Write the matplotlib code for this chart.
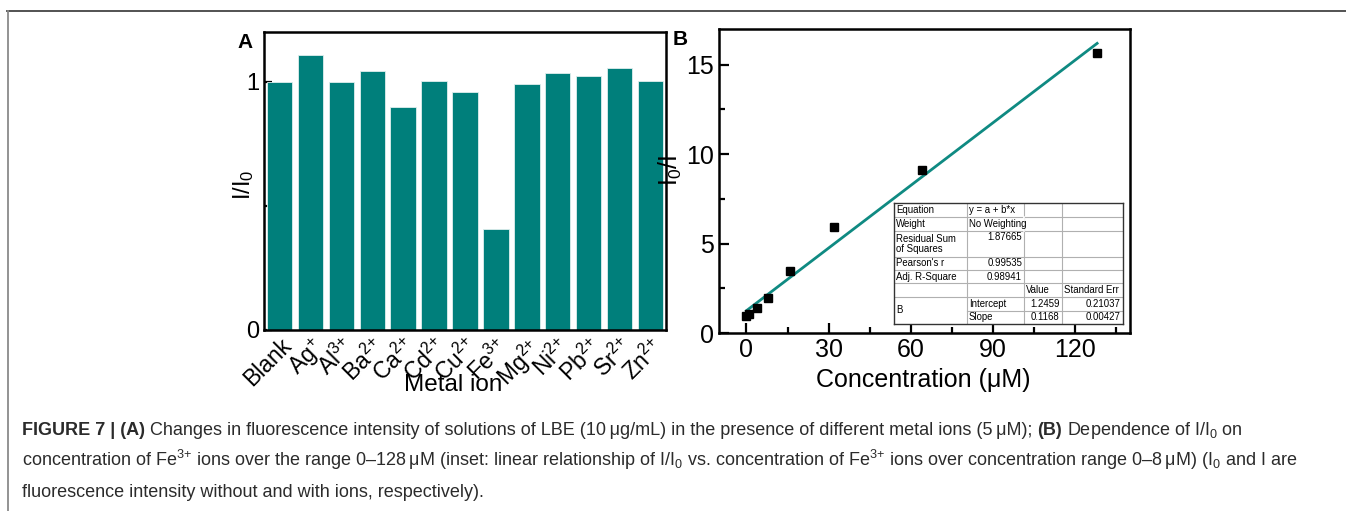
import numpy as np
import matplotlib
matplotlib.use("Agg")
import matplotlib.pyplot as plt
from matplotlib.lines import Line2D
from matplotlib.ticker import MultipleLocator

plt.rcParams['font.family'] = ['Liberation Sans', 'DejaVu Sans']
plt.rcParams['mathtext.fontset'] = 'custom'
plt.rcParams['mathtext.rm'] = 'Liberation Sans'
plt.rcParams['mathtext.it'] = 'Liberation Sans'
plt.rcParams['mathtext.bf'] = 'Liberation Sans:bold'
plt.rcParams['mathtext.default'] = 'regular'

# ---- data ----
metals = ['Blank', 'Ag$^{+}$', 'Al$^{3{+}}$', 'Ba$^{2{+}}$', 'Ca$^{2{+}}$', 'Cd$^{2{+}}$', 'Cu$^{2{+}}$',
          'Fe$^{3{+}}$', 'Mg$^{2{+}}$', 'Ni$^{2{+}}$', 'Pb$^{2{+}}$', 'Sr$^{2{+}}$', 'Zn$^{2{+}}$']
ratio = [1.000, 1.107, 0.997, 1.043, 0.900, 1.001, 0.960, 0.408, 0.992, 1.036, 1.023, 1.056, 1.004]

conc = [0, 1, 4, 8, 16, 32, 64, 128]          # uM
i0_over_i = [0.97, 1.06, 1.38, 1.96, 3.49, 5.91, 9.12, 15.67]

fit_a = 1.2459    # intercept
fit_b = 0.1168    # slope

tab_rows = [
    ['Equation', 'y = a + b*x', '', ''],
    ['Weight', 'No Weighting', '', ''],
    ['Residual Sum\nof Squares', '1.87665', '', ''],
    ["Pearson's r", '0.99535', '', ''],
    ['Adj. R-Square', '0.98941', '', ''],
    ['', '', 'Value', 'Standard Err'],
    ['B', 'Intercept', '1.2459', '0.21037'],
    ['', 'Slope', '0.1168', '0.00427'],
]

TEAL = '#007f7b'
LINE_TEAL = '#0f8a82'
W, H = 1346, 511

fig = plt.figure(figsize=(W / 100, H / 100), dpi=100)

def fx(px):
    return px / W

def fy(py):
    return 1 - py / H

# outer frame of the page
fig.add_artist(Line2D([fx(7), 1.0], [fy(11), fy(11)], transform=fig.transFigure, color='#444444', lw=1.3))
fig.add_artist(Line2D([fx(7.5), fx(7.5)], [fy(11), 0.0], transform=fig.transFigure, color='#8a8a8a', lw=1.3))

# ---------------- panel A ----------------
axA = fig.add_axes([fx(264), fy(330), fx(666) - fx(264), fy(32) - fy(330)])
xA = np.arange(len(metals))
axA.bar(xA, ratio, width=0.82, color=TEAL, edgecolor='#dfeeee', linewidth=0.6, zorder=2)
axA.set_xlim(-0.5, len(metals) - 0.5)
axA.set_ylim(0, 1.2)
axA.set_yticks([0, 1])
axA.yaxis.set_minor_locator(MultipleLocator(0.5))
axA.set_xticks(xA)
axA.set_xticklabels(metals, rotation=45, ha='right', rotation_mode='anchor', fontsize=16.5)
axA.tick_params(axis='y', labelsize=17)
axA.tick_params(which='both', direction='in', width=1.6, top=False, right=False, zorder=3)
axA.tick_params(which='major', length=6)
axA.tick_params(which='minor', length=4)
axA.tick_params(axis='x', pad=3)
for s in axA.spines.values():
    s.set_linewidth(1.8)
    s.set_zorder(4)
axA.text(-0.052, 0.487, 'I/I$_0$', transform=axA.transAxes, rotation=90,
         ha='center', va='center', fontsize=17)
axA.text(0.47, -0.185, 'Metal ion', transform=axA.transAxes, ha='center', va='center', fontsize=17.5)
fig.text(fx(245), fy(42), 'A', fontsize=15, fontweight='bold', ha='center', va='center')

# ---------------- panel B ----------------
axB = fig.add_axes([fx(719), fy(333), fx(1130) - fx(719), fy(29) - fy(333)])
xs = np.array([0, max(conc)])
axB.plot(xs, fit_a + fit_b * xs, color=LINE_TEAL, lw=2, zorder=2)
axB.plot(conc, i0_over_i, 's', color='black', ms=6, zorder=3)
axB.set_xlim(-10, 140)
axB.set_ylim(0, 17)
axB.set_xticks([0, 30, 60, 90, 120])
axB.set_yticks([0, 5, 10, 15])
axB.xaxis.set_minor_locator(MultipleLocator(15))
axB.yaxis.set_minor_locator(MultipleLocator(2.5))
axB.tick_params(labelsize=18)
axB.tick_params(which='both', direction='in', width=1.6, top=False, right=False)
axB.tick_params(which='major', length=7)
axB.tick_params(which='minor', length=4)
for s in axB.spines.values():
    s.set_linewidth(1.8)
axB.text(-0.118, 0.535, 'I$_0$/I', transform=axB.transAxes, rotation=90,
         ha='center', va='center', fontsize=18)
axB.text(0.496, -0.155, 'Concentration (\u03bcM)', transform=axB.transAxes,
         ha='center', va='center', fontsize=18)
fig.text(fx(680), fy(39), 'B', fontsize=15, fontweight='bold', ha='center', va='center')

# ---------------- inset fit table ----------------
tx0, tx1, ty0, ty1 = 894, 1123, 203, 324
axT = fig.add_axes([fx(tx0), fy(ty1), fx(tx1) - fx(tx0), fy(ty0) - fy(ty1)])
axT.set_xlim(tx0, tx1)
axT.set_ylim(ty1, ty0)
axT.set_xticks([])
axT.set_yticks([])
axT.set_facecolor('white')
for s in axT.spines.values():
    s.set_linewidth(1.0)
    s.set_color('#333333')

col_x = [894, 966.7, 1024, 1061.7, 1123]
row_y = [203, 216.7, 230.7, 256.7, 270, 283.3, 296.7, 310.7, 324]
grid_c = '#b0b0b0'
for cx in col_x[1:-1]:
    axT.plot([cx, cx], [ty0, ty1], color=grid_c, lw=0.8)
for k, ry in enumerate(row_y[1:-1], start=1):
    x_start = col_x[1] if k == 7 else tx0
    axT.plot([x_start, tx1], [ry, ry], color=grid_c, lw=0.8)
# "No Weighting" spans the value columns
axT.plot([col_x[2], col_x[2]], [row_y[1], row_y[2]], color='white', lw=1.2)

fs_t = 6.9
for r, row in enumerate(tab_rows):
    ytop, ybot = row_y[r], row_y[r + 1]
    for c, txt in enumerate(row):
        if not txt:
            continue
        left, right = col_x[c], col_x[c + 1]
        if c == 0 and r == 6:
            ymid = (row_y[6] + row_y[8]) / 2
            axT.text(left + 2, ymid, txt, fontsize=fs_t, ha='left', va='center')
            continue
        numeric = txt[0].isdigit()
        if r == 2 and c == 1:
            axT.text(right - 2, ytop + 1.5, txt, fontsize=fs_t, ha='right', va='top')
        elif numeric:
            axT.text(right - 2, (ytop + ybot) / 2, txt, fontsize=fs_t, ha='right', va='center')
        elif r == 2 and c == 0:
            axT.text(left + 2, (ytop + ybot) / 2, txt, fontsize=fs_t, ha='left', va='center',
                     linespacing=1.05)
        else:
            axT.text(left + 2, (ytop + ybot) / 2, txt, fontsize=fs_t, ha='left', va='center')

# ---------------- caption ----------------
cap_size = 13
cap_color = '#2b2b2b'
renderer = fig.canvas.get_renderer()

def text_w(s, weight):
    t = fig.text(0, 0, s, fontsize=cap_size, fontweight=weight)
    w = t.get_window_extent(renderer).width
    t.remove()
    return w

space_w = text_w('x x', 'normal') - text_w('xx', 'normal')

def put_runs(x_px, y_px, runs):
    x = x_px
    for i, (s, weight) in enumerate(runs):
        if i > 0:
            x += space_w
        t = fig.text(fx(x), fy(y_px), s, fontsize=cap_size, fontweight=weight,
                     color=cap_color, va='baseline', ha='left')
        x += t.get_window_extent(renderer).width

put_runs(22, 435, [
    ('FIGURE 7 | (A)', 'bold'),
    ('Changes in fluorescence intensity of solutions of LBE (10\u2009\u03bcg/mL) in the presence of '
     'different metal ions (5\u2009\u03bcM);', 'normal'),
    ('(B)', 'bold'),
    ('Dependence of I/I$_0$ on', 'normal'),
])
put_runs(22, 466, [
    ('concentration of Fe$^{3{+}}$ ions over the range 0\u2013128\u2009\u03bcM (inset: linear relationship '
     'of I/I$_0$ vs. concentration of Fe$^{3{+}}$ ions over concentration range 0\u20138\u2009\u03bcM) '
     '(I$_0$ and I are', 'normal'),
])
put_runs(22, 497, [
    ('fluorescence intensity without and with ions, respectively).', 'normal'),
])

fig.savefig('out.png', dpi=100)
